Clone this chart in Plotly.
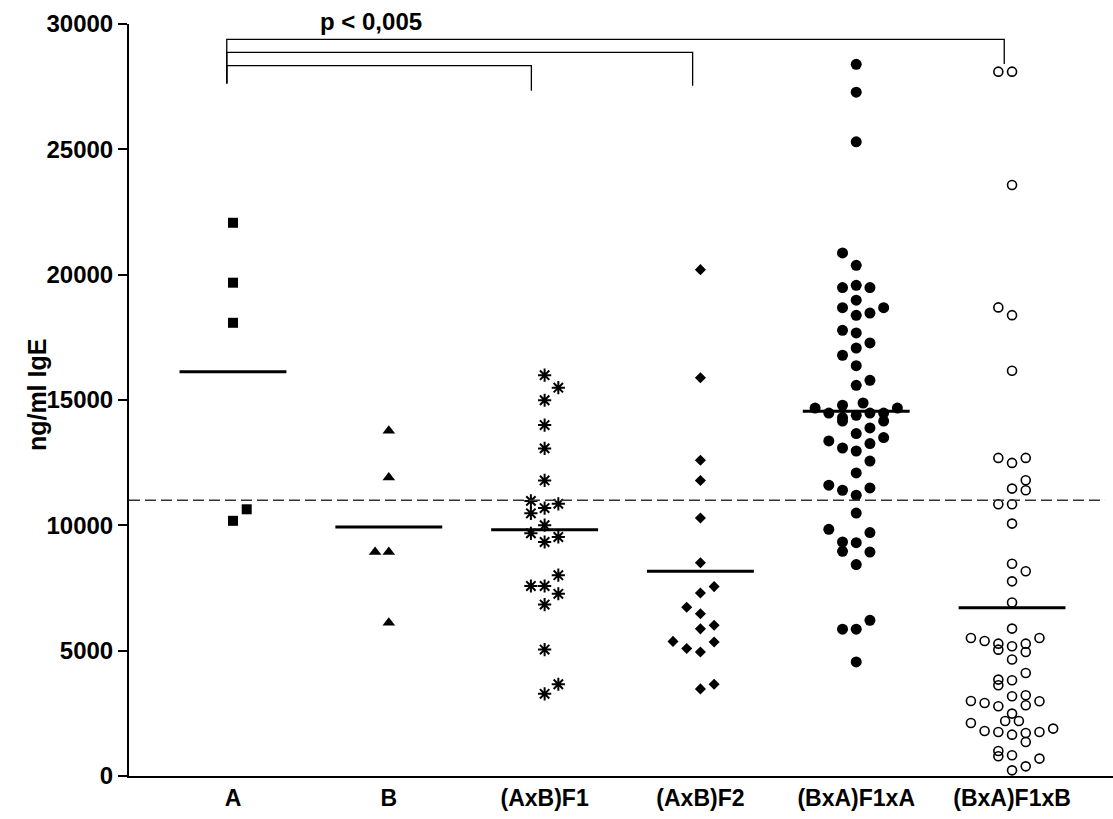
import numpy as np
import plotly.graph_objects as go

# ---------------- data ----------------
categories = ["A", "B", "(AxB)F1", "(AxB)F2", "(BxA)F1xA", "(BxA)F1xB"]
y_ticks = [0, 5000, 10000, 15000, 20000, 25000, 30000]
y_tick_labels = ["0", "5000", "10000", "15000", "20000", "25000", "30000"]

# IgE values (ng/ml) per group, with beeswarm column index (in jitter steps)
a_values = [22070, 19680, 18080, 10640, 10180]
a_cols = [0, 0, 0, 1, 0]

b_values = [13770, 11910, 8940, 8940, 6110]
b_cols = [0, 0, -1, 0, 0]

f1_values = [15990, 15490, 14990, 14000, 13070, 11790, 10975, 10860, 10690, 10480,
             10005, 9680, 9535, 9335, 8010, 7580, 7580, 7270, 6840, 5045, 3660, 3280]
f1_cols = [0, 1, 0, 0, 0, 0, -1, 1, 0, -1,
           0, -1, 1, 0, 1, -1, 0, 1, 0, 0, 1, 0]

f2_values = [20200, 15890, 12600, 11790, 10290, 8510, 7555, 7300, 6730, 6470,
             6015, 5870, 5370, 5345, 5090, 4945, 3660, 3475]
f2_cols = [0, 0, 0, 0, 0, 0, 1, 0, -1, 0,
           1, 0, -2, 1, -1, 0, 1, 0]

f1xa_values = [28390, 27280, 25300, 20865, 20375, 19485, 19575, 19485, 18980, 18685,
               18380, 18470, 18685, 17780, 17675, 17275, 17075, 16785, 16370, 15785,
               15585, 14880, 14790, 14680, 14680, 14480, 14390, 14480, 14480, 14300,
               14160, 14160, 13660, 13885, 13500, 13365, 13260, 13085, 12965, 12565,
               12090, 11600, 11400, 11200, 11490, 10490, 9840, 9710, 9335, 9310,
               8965, 8935, 8435, 6210, 5855, 5855, 4550]
f1xa_cols = [0, 0, 0, -1, 0, -1, 0, 1, 0, -1,
             0, 1, 2, -1, 0, 1, 0, -1, 0, 1,
             0, 0.5, -1, -3, 3, -2, 0, 1, 2, -1,
             -1, 2, 0, 1, 2, -2, 1, -1, 0, 1,
             0, -2, -1, 0, 1, 0, -2, 1, -1, 0,
             -1, 1, 0, 1, -1, 0, 0]

f1xb_values = [28100, 28100, 23575, 18695, 18385, 16165, 12690, 12490, 12690, 11800,
               11465, 11400, 10840, 10840, 10070, 8465, 8170, 7765, 6920, 5880,
               5505, 5385, 5505, 5280, 5175, 5280, 5040, 4945, 4645, 4110,
               3845, 3820, 3620, 3180, 3220, 2990, 2910, 2980, 2780, 2820,
               2490, 2195, 2195, 2115, 1795, 1755, 1650, 1715, 1755, 1890,
               1355, 995, 825, 695, 785, 385, 225]
f1xb_cols = [-1, 0, 0, -1, 0, 0, -1, 0, 1, 1,
             0, 1, -1, 0, 0, 0, 1, 0, 0, 0,
             -3, -2, 2, -1, 0, 1, -1, 1, 0, 1,
             -1, 0, -1, 0, 1, -3, -2, 2, -1, 1,
             0, -0.5, 0.5, -3, -2, -1, 0, 1, 2, 3,
             1, -1, 0, 2, -1, 1, 0]

group_values = [a_values, b_values, f1_values, f2_values, f1xa_values, f1xb_values]
group_cols = [a_cols, b_cols, f1_cols, f2_cols, f1xa_cols, f1xb_cols]

threshold = 11000
p_text = "p < 0,005"
y_title = "ng/ml IgE"
# significance brackets: (target category index, bracket level, drop level at target)
brackets = [(5, 29390, 28400), (3, 28870, 27540), (2, 28340, 27340)]
bracket_left_drop = 27630

# ---------------- styling ----------------
STEP = 0.088          # horizontal jitter step (category units)
HALF = 0.343          # half-width of mean bar
FONT = "Liberation Sans, Arial, sans-serif"
bracket_end_offsets = {5: -0.05, 3: -0.05, 2: -0.085}

marker_styles = [
    dict(symbol="square", size=10, color="black", line=dict(width=0)),
    dict(symbol="triangle-up", size=11, color="black", line=dict(width=0)),
    dict(symbol="asterisk-open", size=11, color="black", line=dict(width=2, color="black")),
    dict(symbol="diamond", size=8.5, color="black", line=dict(width=0)),
    dict(symbol="circle", size=11, color="black", line=dict(width=0)),
    dict(symbol="circle-open", size=9, color="black", line=dict(width=1.6, color="black")),
]

fig = go.Figure()

for i, (vals, cols) in enumerate(zip(group_values, group_cols)):
    xs = [i + c * STEP for c in cols]
    fig.add_trace(go.Scatter(x=xs, y=vals, mode="markers",
                             marker=marker_styles[i], showlegend=False,
                             hoverinfo="y"))
    m = float(np.mean(vals))
    fig.add_trace(go.Scatter(x=[i - HALF, i + HALF], y=[m, m], mode="lines",
                             line=dict(color="black", width=3),
                             showlegend=False, hoverinfo="skip"))

# dashed reference line
fig.add_shape(type="line", xref="paper", yref="y", x0=0, x1=0.992,
              y0=threshold, y1=threshold,
              line=dict(color="#333333", width=1.5, dash="11px,5px"))

# significance brackets
left_x = 0 - 0.04
for tgt, level, drop in brackets:
    rx = tgt + bracket_end_offsets[tgt]
    fig.add_shape(type="path", xref="x", yref="y",
                  path=f"M {left_x},{bracket_left_drop} L {left_x},{level} L {rx},{level} L {rx},{drop}",
                  line=dict(color="black", width=1.3))

fig.add_annotation(text=p_text, xref="paper", yref="paper",
                   x=(371 - 129) / 984, y=1.003, showarrow=False,
                   font=dict(family=FONT, size=24, color="black", weight="bold"),
                   xanchor="center", yanchor="middle")

fig.add_annotation(text=y_title, xref="paper", yref="paper",
                   x=(37 - 129) / 984, y=0.5065, showarrow=False, textangle=-90,
                   font=dict(family=FONT, size=25, color="black", weight="bold"),
                   xanchor="center", yanchor="middle")

fig.update_layout(
    width=1113, height=819,
    margin=dict(l=129, r=0, t=24, b=43),
    paper_bgcolor="white", plot_bgcolor="white",
    xaxis=dict(range=[-0.6675, 5.648], tickvals=list(range(len(categories))),
               ticktext=categories, showline=True, linecolor="black", linewidth=2,
               ticks="", showgrid=False, zeroline=False,
               tickfont=dict(family=FONT, size=23, color="black", weight="bold")),
    yaxis=dict(range=[0, 30000], tickvals=y_ticks, ticktext=y_tick_labels,
               showline=True, linecolor="black", linewidth=2,
               ticks="outside", ticklen=9, tickwidth=2, tickcolor="black",
               showgrid=False, zeroline=False,
               tickfont=dict(family=FONT, size=24, color="black", weight="bold")),
)

fig.write_html("out.html", config={"displayModeBar": False},
               post_script="document.body.style.margin='0';document.body.style.overflow='hidden';")
